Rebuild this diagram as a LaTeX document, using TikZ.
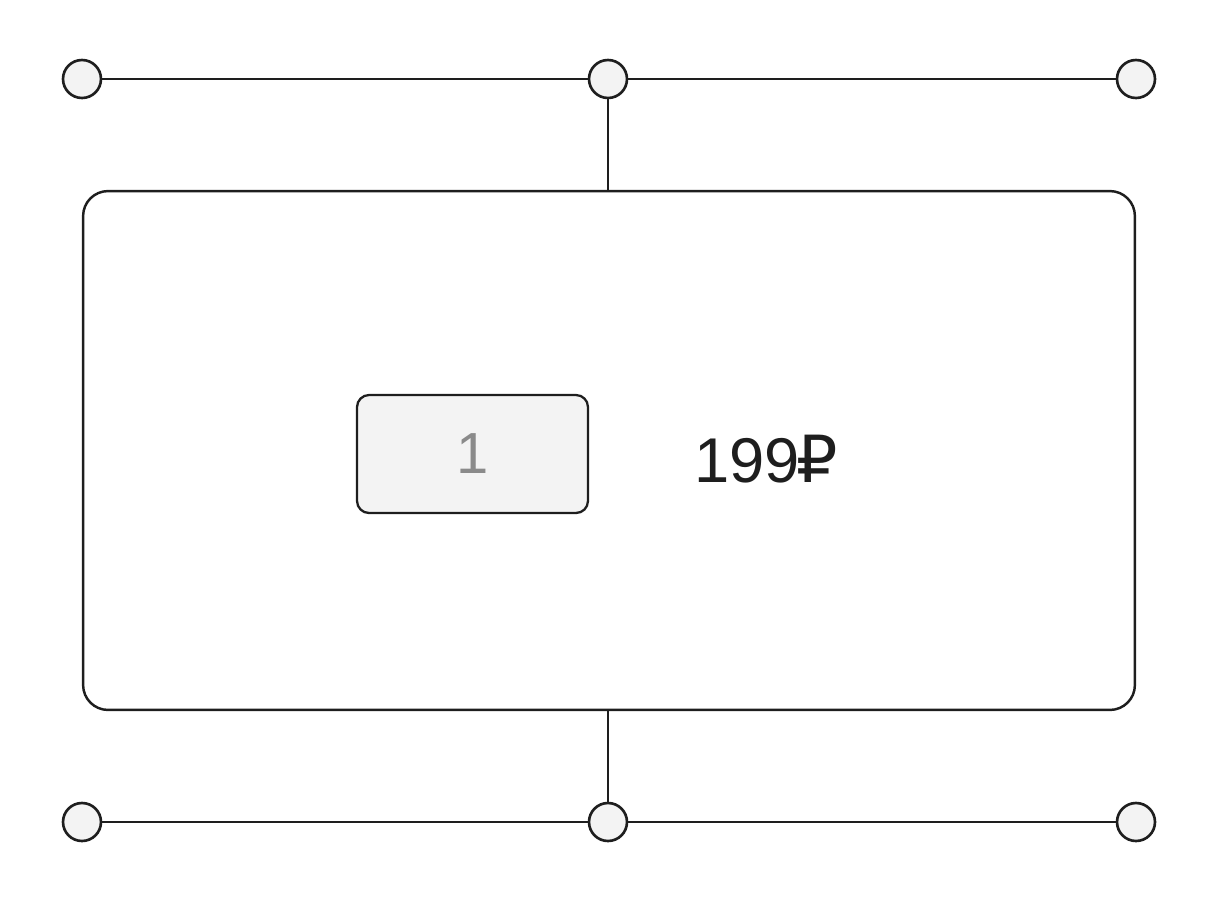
\documentclass[tikz,border=0pt]{standalone}
\usepackage{fontspec}
\setmainfont{Liberation Sans}
\newfontfamily\rublefont{DejaVu Sans}
\usetikzlibrary{positioning}
\definecolor{wline}{HTML}{1E1E1E}
\definecolor{wfill}{HTML}{F3F3F3}
\definecolor{wtext}{HTML}{8A8A8A}
\tikzset{
  dot/.style={circle, draw=wline, fill=wfill, line width=1.5pt,
              minimum size=0.76cm, inner sep=0pt},
  wire/.style={draw=wline, line width=1.2pt},
  framebox/.style={draw=wline, rounded corners=0.5cm, line width=1.4pt,
                   minimum width=21.04cm, minimum height=10.38cm},
  qtybox/.style={draw=wline, fill=wfill, rounded corners=0.24cm, line width=1.3pt,
                 minimum width=4.62cm, minimum height=2.36cm,
                 font=\fontsize{33}{36}\selectfont, text=wtext},
  pricetxt/.style={font=\fontsize{36}{40}\selectfont, text=wline, inner sep=0pt},
}
\begin{document}
\begin{tikzpicture}[x=0.02cm, y=-0.02cm]
  \useasboundingbox (0,0) rectangle (1216,900);

  \node[framebox] (frame) at (609, 450.5) {};
  \node[qtybox] (qty) at (472.5, 454) {1};
  \node[pricetxt] (price) at (766, 459) {199\kern-2pt{\rublefont\fontsize{37}{40}\selectfont ₽}};

  \node[dot] (tl) at (82, 79) {};
  \node[dot] (tm) at (608, 79) {};
  \node[dot] (tr) at (1136, 79) {};
  \node[dot] (bl) at (82, 822) {};
  \node[dot] (bm) at (608, 822) {};
  \node[dot] (br) at (1136, 822) {};

  \draw[wire] (tl) -- (tm);
  \draw[wire] (tm) -- (tr);
  \draw[wire] (tm) -- (tm |- frame.north);
  \draw[wire] (bl) -- (bm);
  \draw[wire] (bm) -- (br);
  \draw[wire] (bm) -- (bm |- frame.south);
\end{tikzpicture}
\end{document}
